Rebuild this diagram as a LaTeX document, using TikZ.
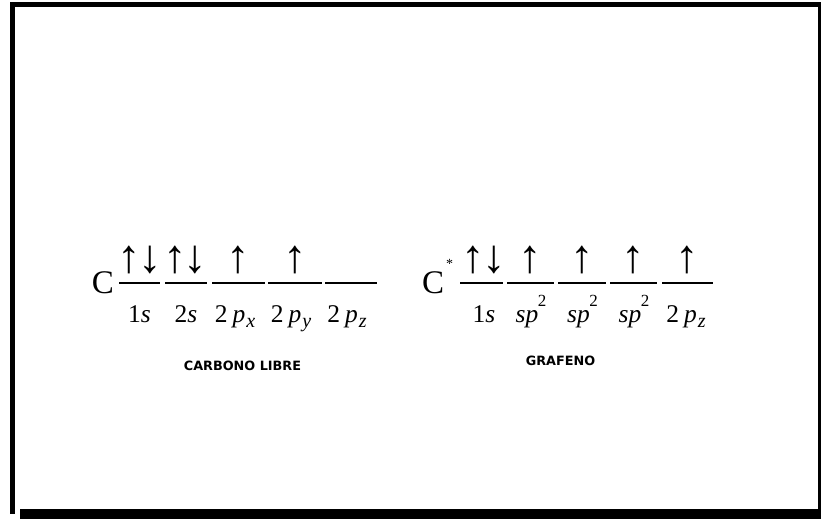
\documentclass[tikz,border=0pt]{standalone}
\usepackage{fontspec}
\setmainfont{Liberation Serif}
\newfontfamily\labelfont{DejaVu Sans}
\newcommand{\orbsub}[1]{2\kern5pt\textit{p}\kern1pt\raisebox{-5pt}{\fontsize{20}{22}\selectfont\textit{#1}}}
\newcommand{\orbsp}{\textit{sp}\kern-0.5pt\raisebox{16pt}{\fontsize{17}{19}\selectfont 2}}
\newcommand{\spinpair}{↑\kern-3pt↓}
\begin{document}
\begin{tikzpicture}[x=1pt,y=-1pt,
  orb/.style={line width=1.1pt},
  spin/.style={inner sep=0pt,anchor=base,font=\fontsize{47}{50}\selectfont},
  olab/.style={inner sep=0pt,anchor=base,font=\fontsize{25.5}{28}\selectfont},
  atom/.style={inner sep=0pt,anchor=base,font=\fontsize{33}{35}\selectfont},
  captext/.style={inner sep=0pt,anchor=base,font=\labelfont\bfseries\fontsize{12.8}{14}\selectfont}]
\useasboundingbox (0,0) rectangle (821,520);
% frame
\fill[black] (10,2) rectangle (821,7);
\fill[black] (10,2) rectangle (15,514);
\fill[black] (20,509) rectangle (821,519);
\fill[black] (818,2) rectangle (821,519);
% left group
\node[atom] (cl) at (103,293) {C};
\foreach \n/\a/\b in {l1/119/160, l2/165/207, l3/212/265, l4/268/322, l5/325/377}{
  \coordinate (\n a) at (\a,283);
  \coordinate (\n b) at (\b,283);
  \draw[orb] (\n a) -- (\n b);
}
\node[spin] (sl1) at (139.5,272) {\spinpair};
\node[spin] (sl2) at (185,272) {\spinpair};
\node[spin] (sl3) at (238.5,272) {↑};
\node[spin] (sl4) at (295,272) {↑};
\node[olab] (tl1) at (139.5,322) {1\textit{s}};
\node[olab] (tl2) at (186,322) {2\textit{s}};
\node[olab] (tl3) at (235,322) {\orbsub{x}};
\node[olab] (tl4) at (291,322) {\orbsub{y}};
\node[olab] (tl5) at (347,322) {\orbsub{z}};
\node[captext] (capl) at (242.5,370) {CARBONO LIBRE};
% right group
\node[atom] (cr) at (433,293) {C};
\node[inner sep=0pt,anchor=base,font=\fontsize{14}{16}\selectfont] (star) at (449.5,268) {*};
\foreach \n/\a/\b in {r1/460/503, r2/507/554, r3/558/606, r4/610/657, r5/662/713}{
  \coordinate (\n a) at (\a,283);
  \coordinate (\n b) at (\b,283);
  \draw[orb] (\n a) -- (\n b);
}
\node[spin] (sr1) at (483.5,272) {\spinpair};
\node[spin] (sr2) at (530.5,272) {↑};
\node[spin] (sr3) at (582,272) {↑};
\node[spin] (sr4) at (633.5,272) {↑};
\node[spin] (sr5) at (687.5,272) {↑};
\node[olab] (tr1) at (484,322) {1\textit{s}};
\node[olab] (tr2) at (531,322) {\orbsp};
\node[olab] (tr3) at (582.5,322) {\orbsp};
\node[olab] (tr4) at (634,322) {\orbsp};
\node[olab] (tr5) at (686,322) {\orbsub{z}};
\node[captext] (capr) at (560.5,365) {GRAFENO};
\end{tikzpicture}
\end{document}
